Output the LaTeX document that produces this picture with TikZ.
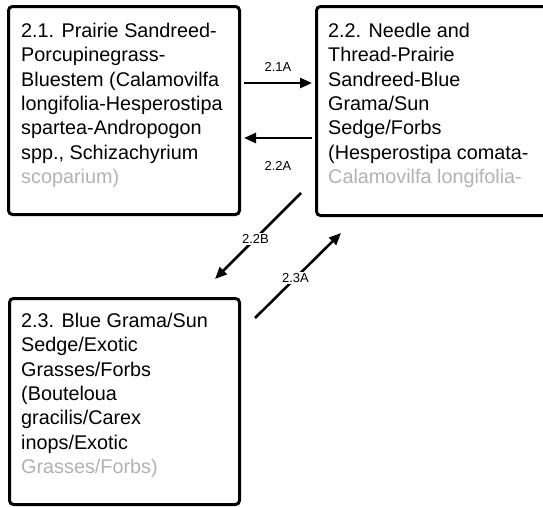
\documentclass[tikz,border=0pt]{standalone}
\usepackage{fontspec}
\setmainfont{Liberation Sans}
\usetikzlibrary{arrows.meta}
\newcommand{\faded}[1]{\textcolor{black!30}{#1}}
\begin{document}
\begin{tikzpicture}[
x=1pt,y=-1pt,
statebox/.style={draw,line width=3pt,rounded corners=4pt,inner sep=0pt,anchor=north west},
statetext/.style={anchor=north west,inner sep=0pt,align=left,font=\fontsize{19.8}{24.3}\selectfont},
transarrow/.style={line width=2.6pt,-{Triangle[length=12pt,width=10pt]}},
translabel/.style={font=\fontsize{13}{15}\selectfont,inner sep=1.5pt},
]
\useasboundingbox (0,0) rectangle (543,506);
% states
\node[statebox,minimum width=231pt,minimum height=208pt] (s21) at (7,5) {};
\node[statebox,minimum width=245pt,minimum height=209pt] (s22) at (315,5) {};
\node[statebox,minimum width=230pt,minimum height=206pt] (s23) at (8,297) {};
\node[statetext] (t21) at ([shift={(14,18)}]s21.north west)
    {2.1. Prairie Sandreed-\\Porcupinegrass-\\Bluestem (Calamovilfa\\longifolia-Hesperostipa\\spartea-Andropogon\\spp., Schizachyrium\\\faded{scoparium)}};
\node[statetext] (t22) at ([shift={(13,18)}]s22.north west)
    {2.2. Needle and\\Thread-Prairie\\Sandreed-Blue\\Grama/Sun\\Sedge/Forbs\\(Hesperostipa comata-\\\faded{Calamovilfa longifolia-}};
\node[statetext] (t23) at ([shift={(13,16)}]s23.north west)
    {2.3. Blue Grama/Sun\\Sedge/Exotic\\Grasses/Forbs\\(Bouteloua\\gracilis/Carex\\inops/Exotic\\\faded{Grasses/Forbs)}};
% transitions
\coordinate (p21a) at (244,83);
\coordinate (q21a) at (312,83);
\coordinate (p22a) at (312,138);
\coordinate (q22a) at (244,138);
\coordinate (p22b) at (301,193);
\coordinate (q22b) at (215,279);
\coordinate (p23a) at (255,318);
\coordinate (q23a) at (341,233);
\draw[transarrow] (p21a) -- (q21a) node[translabel,midway,above=9pt] (l21a) {2.1A};
\draw[transarrow] (p22a) -- (q22a) node[translabel,midway,below=21pt] (l22a) {2.2A};
\draw[transarrow] (p22b) -- (q22b) node[translabel,pos=0.53,fill=white] (l22b) {2.2B};
\draw[transarrow] (p23a) -- (q23a) node[translabel,pos=0.47,fill=white] (l23a) {2.3A};
\end{tikzpicture}
\end{document}
